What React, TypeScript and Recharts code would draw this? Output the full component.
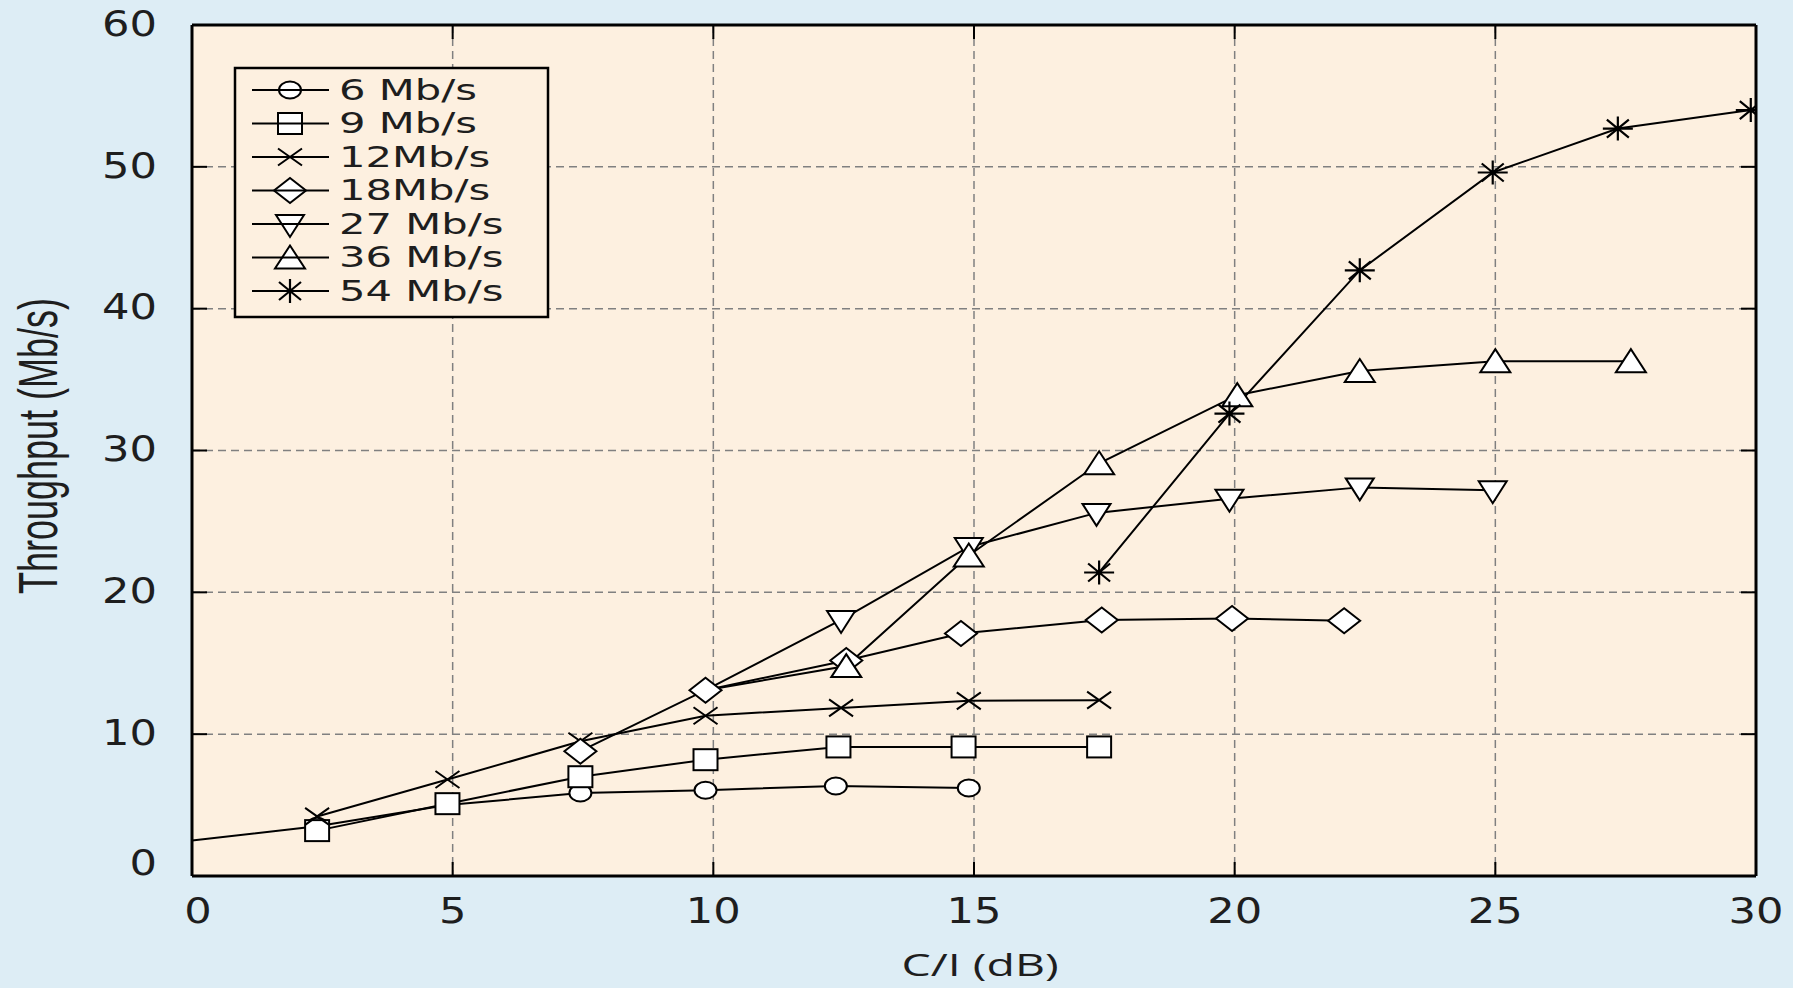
import React from 'react';
import { LineChart, Line, XAxis, YAxis, CartesianGrid } from 'recharts';

// axis ticks
const X_TICKS = [0, 5, 10, 15, 20, 25, 30];
const Y_TICKS = [0, 10, 20, 30, 40, 50, 60];

// series values: C/I (dB) and throughput (Mb/s)
const CI_6 = [0, 2.4, 4.9, 7.45, 9.85, 12.35, 14.9];
const TP_6 = [2.5, 3.5, 5.0, 5.85, 6.05, 6.35, 6.2];

const CI_9 = [2.4, 4.9, 7.45, 9.85, 12.4, 14.8, 17.4];
const TP_9 = [3.2, 5.1, 7.0, 8.2, 9.1, 9.1, 9.1];

const CI_12 = [2.4, 4.9, 7.45, 9.85, 12.45, 14.9, 17.4];
const TP_12 = [4.2, 6.8, 9.5, 11.3, 11.85, 12.35, 12.4];

const CI_18 = [7.45, 9.85, 12.55, 14.75, 17.45, 19.95, 22.1];
const TP_18 = [8.8, 13.1, 15.2, 17.1, 18.05, 18.15, 18.0];

const CI_27 = [9.85, 12.45, 14.9, 17.35, 19.9, 22.4, 24.95];
const TP_27 = [13.1, 18.05, 23.2, 25.6, 26.6, 27.4, 27.2];

const CI_36 = [9.85, 12.55, 14.9, 17.4, 20.05, 22.4, 25.0, 27.6];
const TP_36 = [13.1, 14.8, 22.6, 29.1, 33.9, 35.6, 36.3, 36.3];

const CI_54 = [17.4, 19.9, 22.4, 24.95, 27.35, 29.9];
const TP_54 = [21.4, 32.6, 42.7, 49.6, 52.7, 54.0];

const SERIES_NAMES = ['6 Mb/s', '9 Mb/s', '12Mb/s', '18Mb/s', '27 Mb/s', '36 Mb/s', '54 Mb/s'];

const W = 1793;
const H = 988;
const BG = '#ddedf5';
const PLOT_BG = '#fdf0e0';
const INK = '#1e1e1e';

const toPoints = (ci: number[], tp: number[]) => ci.map((x, i) => ({ x, y: tp[i] }));

const SERIES = [
  { name: SERIES_NAMES[0], shape: 'circle', data: toPoints(CI_6, TP_6), hideFirst: true },
  { name: SERIES_NAMES[1], shape: 'square', data: toPoints(CI_9, TP_9), hideFirst: false },
  { name: SERIES_NAMES[2], shape: 'x', data: toPoints(CI_12, TP_12), hideFirst: false },
  { name: SERIES_NAMES[3], shape: 'diamond', data: toPoints(CI_18, TP_18), hideFirst: false },
  { name: SERIES_NAMES[4], shape: 'down', data: toPoints(CI_27, TP_27), hideFirst: true },
  { name: SERIES_NAMES[5], shape: 'up', data: toPoints(CI_36, TP_36), hideFirst: true },
  { name: SERIES_NAMES[6], shape: 'star', data: toPoints(CI_54, TP_54), hideFirst: false },
];

function Marker({ shape, cx, cy }: { shape: string; cx: number; cy: number }) {
  const s = { stroke: '#000', strokeWidth: 2, fill: '#fff' };
  switch (shape) {
    case 'circle':
      return <ellipse cx={cx} cy={cy} rx={11} ry={8.5} {...s} />;
    case 'square':
      return <rect x={cx - 12} y={cy - 10.5} width={24} height={21} {...s} />;
    case 'x':
      return (
        <path
          d={`M${cx - 12},${cy - 8.5}L${cx + 12},${cy + 8.5}M${cx - 12},${cy + 8.5}L${cx + 12},${cy - 8.5}`}
          stroke="#000"
          strokeWidth={2}
          fill="none"
        />
      );
    case 'diamond':
      return <polygon points={`${cx - 16},${cy} ${cx},${cy - 12.5} ${cx + 16},${cy} ${cx},${cy + 12.5}`} {...s} />;
    case 'down':
      return <polygon points={`${cx - 14},${cy - 9} ${cx + 14},${cy - 9} ${cx},${cy + 13}`} {...s} />;
    case 'up':
      return <polygon points={`${cx - 15},${cy + 11} ${cx + 15},${cy + 11} ${cx},${cy - 12}`} {...s} />;
    default:
      return (
        <path
          d={`M${cx},${cy - 12}L${cx},${cy + 12}M${cx - 15},${cy}L${cx + 15},${cy}M${cx - 11},${cy - 9}L${cx + 11},${cy + 9}M${cx - 11},${cy + 9}L${cx + 11},${cy - 9}`}
          stroke="#000"
          strokeWidth={2.2}
          fill="none"
        />
      );
  }
}

const makeDot = (shape: string, hideFirst: boolean) => (props: any) => {
  const { cx, cy, index } = props;
  if (cx == null || cy == null || (hideFirst && index === 0)) return <g key={`d-${shape}-${index}`} />;
  return <Marker key={`d-${shape}-${index}`} shape={shape} cx={cx} cy={cy} />;
};

// ticks point inward, labels are stretched sideways like the scanned original
const BottomTick = (props: any) => {
  const { x, y, payload } = props;
  const dx = payload.value === 0 ? 6 : 0;
  return (
    <g>
      <line x1={x} y1={y} x2={x} y2={y - 14} stroke="#000" strokeWidth={2} />
      <g transform={`translate(${x + dx},${y + 34}) scale(1.2,1)`}>
        <text textAnchor="middle" dominantBaseline="central" fontSize={36} fontFamily="DejaVu Sans" fill={INK}>
          {payload.value}
        </text>
      </g>
    </g>
  );
};

const LeftTick = (props: any) => {
  const { x, y, payload } = props;
  const dy = payload.value === 0 ? -14 : -2;
  return (
    <g>
      <line x1={x} y1={y} x2={x + 15} y2={y} stroke="#000" strokeWidth={2} />
      <g transform={`translate(${x - 35},${y + dy}) scale(1.2,1)`}>
        <text textAnchor="end" dominantBaseline="central" fontSize={36} fontFamily="DejaVu Sans" fill={INK}>
          {payload.value}
        </text>
      </g>
    </g>
  );
};

const TopTick = (props: any) => {
  const { x, y } = props;
  return <line x1={x} y1={y} x2={x} y2={y + 14} stroke="#000" strokeWidth={2} />;
};

const RightTick = (props: any) => {
  const { x, y } = props;
  return <line x1={x} y1={y} x2={x - 15} y2={y} stroke="#000" strokeWidth={2} />;
};

const AXIS_LINE = { stroke: '#000', strokeWidth: 3 };

export default function App() {
  return (
    <div style={{ position: 'absolute', left: 0, top: 0, width: W, height: H, background: BG, overflow: 'hidden' }}>
      <LineChart width={W} height={H} margin={{ top: 24, right: 36, bottom: 0, left: 0 }}>
        <CartesianGrid stroke="#808080" strokeWidth={1.5} strokeDasharray="8 5" fill={PLOT_BG} fillOpacity={1} />
        <XAxis
          type="number"
          dataKey="x"
          domain={[0, 30]}
          ticks={X_TICKS}
          interval={0}
          height={112}
          allowDataOverflow
          axisLine={AXIS_LINE}
          tickLine={false}
          tickSize={0}
          tickMargin={0}
          tick={BottomTick}
        />
        <XAxis
          xAxisId="top"
          orientation="top"
          type="number"
          dataKey="x"
          domain={[0, 30]}
          ticks={X_TICKS}
          interval={0}
          height={1}
          allowDataOverflow
          axisLine={AXIS_LINE}
          tickLine={false}
          tickSize={0}
          tickMargin={0}
          tick={TopTick}
        />
        <YAxis
          type="number"
          domain={[0, 60]}
          ticks={Y_TICKS}
          interval={0}
          width={192}
          allowDataOverflow
          axisLine={AXIS_LINE}
          tickLine={false}
          tickSize={0}
          tickMargin={0}
          tick={LeftTick}
        />
        <YAxis
          yAxisId="right"
          orientation="right"
          type="number"
          domain={[0, 60]}
          ticks={Y_TICKS}
          interval={0}
          width={1}
          allowDataOverflow
          axisLine={AXIS_LINE}
          tickLine={false}
          tickSize={0}
          tickMargin={0}
          tick={RightTick}
        />
        {/* markers first, then the lines drawn across them */}
        {SERIES.map((s) => (
          <Line
            key={`m-${s.name}`}
            data={s.data}
            dataKey="y"
            type="linear"
            stroke="none"
            dot={makeDot(s.shape, s.hideFirst)}
            activeDot={false}
            legendType="none"
            isAnimationActive={false}
          />
        ))}
        {SERIES.map((s) => (
          <Line
            key={`l-${s.name}`}
            data={s.data}
            dataKey="y"
            type="linear"
            stroke="#000"
            strokeWidth={2}
            dot={false}
            activeDot={false}
            legendType="none"
            isAnimationActive={false}
          />
        ))}
      </LineChart>

      <svg width={W} height={H} style={{ position: 'absolute', left: 0, top: 0, pointerEvents: 'none' }}>
        {/* axis titles */}
        <g transform="translate(57,446) rotate(-90) scale(1,1.55)">
          <text textAnchor="middle" fontSize={36} fontFamily="Liberation Sans" fill={INK}>
            Throughput (Mb/s)
          </text>
        </g>
        <g transform="translate(980,976) scale(1.5,1)">
          <text textAnchor="middle" fontSize={31} fontFamily="Open Sans" fill={INK}>
            C/I (dB)
          </text>
        </g>

        {/* legend */}
        <rect x={235} y={68} width={313} height={249} fill={PLOT_BG} stroke="#000" strokeWidth={2.5} />
        {SERIES.map((s, i) => {
          const cy = 90 + i * 33.5;
          return (
            <g key={`lg-${s.name}`}>
              <Marker shape={s.shape} cx={290} cy={cy} />
              <line x1={252} y1={cy} x2={329} y2={cy} stroke="#000" strokeWidth={2} />
              <g transform={`translate(339,${cy}) scale(1.49,1)`}>
                <text dominantBaseline="central" fontSize={28} fontFamily="DejaVu Sans" fill={INK}>
                  {s.name}
                </text>
              </g>
            </g>
          );
        })}
      </svg>
    </div>
  );
}
